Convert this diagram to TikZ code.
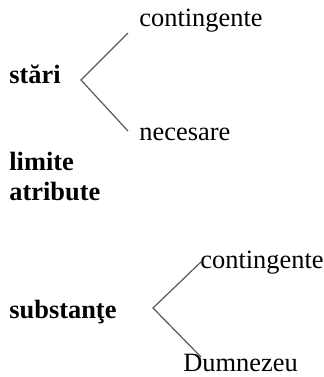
\documentclass[tikz,border=0pt]{standalone}
\usepackage{fontspec}
\setmainfont{Liberation Serif}
\begin{document}
\begin{tikzpicture}[x=0.5pt,y=0.5pt]
            \tikzset{every node/.style={inner sep=0pt,anchor=base west,font=\fontsize{13.2}{16}\selectfont},
                     term/.style={font=\fontsize{13.2}{16}\selectfont\bfseries},
                     branch/.style={draw=black!65,line width=0.6pt}}
                \useasboundingbox (0,0) rectangle (324,-377);
                % first tree
                \node[term] (stari) at (9,-83) {stări};
                \node (cont1) at (139,-26) {contingente};
                \node (nec) at (139,-140) {necesare};
                \coordinate (v1) at (81,-80);
                \draw [branch] ([xshift=-5.5pt,yshift=-3.5pt]cont1.base west) -- (v1) -- ([xshift=-5.5pt,yshift=4.5pt]nec.base west);
                \node[term] (limite) at (9,-170) {limite};
                \node[term] (atribute) at (9,-200) {atribute};
                % second tree
                \node[term] (subst) at (9,-318) {substanţe};
                \node (cont2) at (200,-268) {contingente};
                \node (dumn) at (183,-371) {Dumnezeu};
                \coordinate (v2) at (153,-308);
                \draw [branch] ([xshift=1pt,yshift=3.5pt]cont2.base west) -- (v2) -- ([xshift=9pt,yshift=7pt]dumn.base west);
            \end{tikzpicture}
\end{document}
